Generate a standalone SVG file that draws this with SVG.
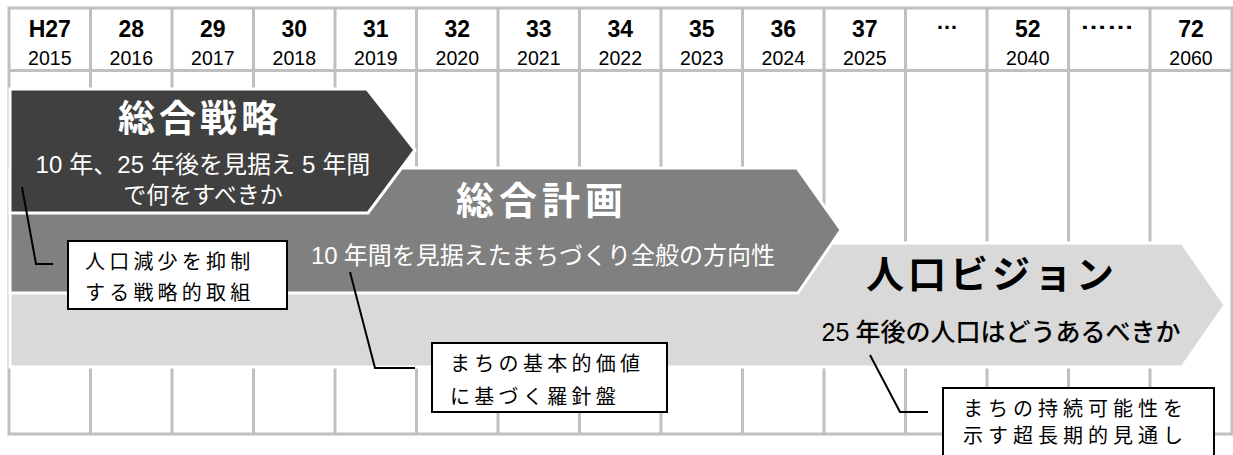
<svg xmlns="http://www.w3.org/2000/svg" width="1233" height="455" viewBox="0 0 1233 455">
<style>
.grid{stroke:#c0c0c0;stroke-width:3;fill:none}
.yr{font-family:'Liberation Sans','Noto Sans CJK JP',sans-serif;font-size:19.5px;fill:#000;text-anchor:middle}
.num{font-family:'Liberation Sans','Noto Sans CJK JP',sans-serif;font-size:23px;font-weight:bold;fill:#000;text-anchor:middle}
.band{stroke:#fff;stroke-width:3;stroke-linejoin:miter}
.title{font-family:'Noto Sans CJK JP','Liberation Sans',sans-serif;font-weight:bold;text-anchor:middle}
.sub{font-family:'Liberation Sans','Noto Sans CJK JP',sans-serif;text-anchor:middle}
.box{fill:#fff;stroke:#000;stroke-width:2}
.boxt{font-family:'Noto Sans CJK JP',sans-serif;font-size:20px;fill:#000}
.lead{stroke:#000;stroke-width:2;fill:none}
</style>
<rect width="1233" height="455" fill="#fff"/>
<g id="grid">
<path class="grid" d="M9,8H1232V434H9Z M9,70.5H1232 M90.5,8V434 M172,8V434 M253.5,8V434 M335,8V434 M416.5,8V434 M498,8V434 M579.5,8V434 M661,8V434 M742.5,8V434 M824,8V434 M905.5,8V434 M987,8V434 M1068.5,8V434 M1150,8V434"/>
<text class="num" x="49.8" y="37">H27</text><text class="yr" x="49.8" y="65">2015</text>
<text class="num" x="131.3" y="37">28</text><text class="yr" x="131.3" y="65">2016</text>
<text class="num" x="212.8" y="37">29</text><text class="yr" x="212.8" y="65">2017</text>
<text class="num" x="294.3" y="37">30</text><text class="yr" x="294.3" y="65">2018</text>
<text class="num" x="375.8" y="37">31</text><text class="yr" x="375.8" y="65">2019</text>
<text class="num" x="457.3" y="37">32</text><text class="yr" x="457.3" y="65">2020</text>
<text class="num" x="538.8" y="37">33</text><text class="yr" x="538.8" y="65">2021</text>
<text class="num" x="620.3" y="37">34</text><text class="yr" x="620.3" y="65">2022</text>
<text class="num" x="701.8" y="37">35</text><text class="yr" x="701.8" y="65">2023</text>
<text class="num" x="783.3" y="37">36</text><text class="yr" x="783.3" y="65">2024</text>
<text class="num" x="864.8" y="37">37</text><text class="yr" x="864.8" y="65">2025</text>
<text x="947" y="29" font-family="'Liberation Sans',sans-serif" font-size="22" font-weight="bold" text-anchor="middle" textLength="20">…</text>
<text class="num" x="1027.8" y="37">52</text><text class="yr" x="1027.8" y="65">2040</text>
<text x="1107" y="29" font-family="'Liberation Sans',sans-serif" font-size="22" font-weight="bold" text-anchor="middle" textLength="54" lengthAdjust="spacingAndGlyphs">……</text>
<text class="num" x="1191" y="37">72</text><text class="yr" x="1191" y="65">2060</text>
</g>
<g id="jinko-vision">
<polygon class="band" fill="#d9d9d9" points="10,243 1182,243 1225,305 1182,367 10,367"/>
<text class="title" x="992" y="288" font-size="38" letter-spacing="4" fill="#000">人口ビジョン</text>
<text class="sub" x="1001" y="341" font-size="25" font-weight="500" fill="#000">25<tspan dx="6">年後の人口はどうあるべきか</tspan></text>
</g>
<g id="sogo-keikaku">
<polygon class="band" fill="#808080" points="10,168 797,168 841,230 798,293 10,293"/>
<text class="title" x="542" y="214" font-size="38" letter-spacing="5" fill="#fff">総合計画</text>
<text class="sub" x="543" y="264" font-size="24" fill="#fff">10<tspan dx="6">年間を見据えたまちづくり全般の方向性</tspan></text>
</g>
<g id="sogo-senryaku">
<polygon class="band" fill="#404040" points="10,89 367,89 415,150 368,213 10,213"/>
<text class="title" x="200" y="132" font-size="37" letter-spacing="4" fill="#fff">総合戦略</text>
<text class="sub" x="203" y="173" font-size="24" fill="#fff">10<tspan dx="7">年、25</tspan><tspan dx="7">年後を見据え</tspan><tspan dx="7">5</tspan><tspan dx="7">年間</tspan></text>
<text class="sub" x="203" y="203" font-size="23" fill="#fff">で何をすべきか</text>
</g>
<g id="connectors">
<polyline class="lead" points="22,187 36,264 53,264"/>
<polyline class="lead" points="350,272 375,368 415,368"/>
<polyline class="lead" points="870,355 900,412 928,412"/>
</g>
<g id="note-senryaku">
<rect class="box" x="68" y="241" width="219" height="68"/>
<text class="boxt" x="85" y="269" letter-spacing="4.2">人口減少を抑制</text>
<text class="boxt" x="85" y="300" letter-spacing="4.2">する戦略的取組</text>
</g>
<g id="note-keikaku">
<rect class="box" x="432" y="343" width="235" height="69"/>
<text class="boxt" x="450" y="371" font-size="21" letter-spacing="4.3">まちの基本的価値</text>
<text class="boxt" x="450" y="404" font-size="21" letter-spacing="4.3">に基づく羅針盤</text>
</g>
<g id="note-vision">
<rect class="box" x="943" y="388" width="271" height="75"/>
<text class="boxt" x="963" y="416" font-size="21" letter-spacing="5">まちの持続可能性を</text>
<text class="boxt" x="963" y="443" font-size="21" letter-spacing="5">示す超長期的見通し</text>
</g>
</svg>
